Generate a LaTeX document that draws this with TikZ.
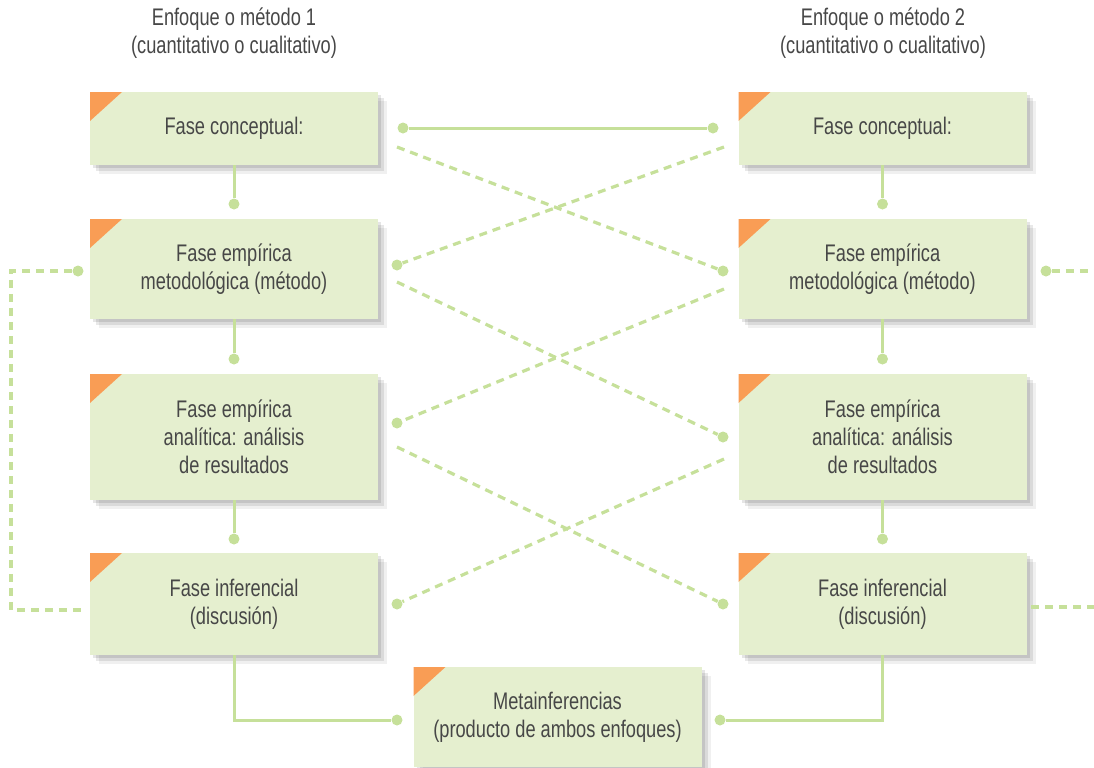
\documentclass[tikz,border=0pt]{standalone}
\usepackage{fontspec}
\setmainfont{Liberation Sans}[FakeStretch=0.76]
\usepackage{xcolor}
\usepackage{tikz}
\usetikzlibrary{shadows}
\definecolor{boxgreen}{HTML}{E5EFCF}
\definecolor{linegreen}{HTML}{C6E09A}
\definecolor{cornerorange}{HTML}{F99D55}
\definecolor{textgray}{HTML}{474747}

\begin{document}
\begin{tikzpicture}[x=0.5pt, y=-0.5pt,
			% Define the styles for the boxes, dots and lines
			every node/.style={font=\fontsize{12}{14}\selectfont, text=textgray, align=center},
			phase/.style={rectangle, fill=boxgreen, minimum width=144pt, inner sep=0pt,
				drop shadow={shadow xshift=1.5pt, shadow yshift=-1.5pt, opacity=.10, fill=black},
				drop shadow={shadow xshift=3pt, shadow yshift=-3pt, opacity=.09, fill=black},
				drop shadow={shadow xshift=4.5pt, shadow yshift=-4.5pt, opacity=.06, fill=black},
				path picture={\fill[cornerorange] (path picture bounding box.north west)
					-- ++(16pt,0pt) -- ++(-16pt,-14.5pt) -- cycle;}},
			dot/.style={circle, fill=linegreen, inner sep=0pt, minimum size=5.5pt},
			link/.style={draw=linegreen, line width=1.5pt},
			dlink/.style={draw=linegreen, line width=1.6pt, dash pattern=on 4pt off 3pt}
			]

			\useasboundingbox (0,0) rectangle (1094,767);

			% headers
			\node (hl) at (234,33) {Enfoque o método 1\\(cuantitativo o cualitativo)};
			\node (hr) at (883,33) {Enfoque o método 2\\(cuantitativo o cualitativo)};

			% left column
			\node (l1) at (234,128.5) [phase, minimum height=36.5pt] {Fase conceptual:};
			\node (l2) at (234,269) [phase, minimum height=50pt] {Fase empírica\\metodológica (método)};
			\node (l3) at (234,437) [phase, minimum height=63pt] {Fase empírica\\analítica: análisis\\de resultados};
			\node (l4) at (234,604) [phase, minimum height=51pt] {Fase inferencial\\(discusión)};

			% right column
			\node (r1) at (882.5,128.5) [phase, minimum height=36.5pt] {Fase conceptual:};
			\node (r2) at (882.5,269) [phase, minimum height=50pt] {Fase empírica\\metodológica (método)};
			\node (r3) at (882.5,437) [phase, minimum height=63pt] {Fase empírica\\analítica: análisis\\de resultados};
			\node (r4) at (882.5,604) [phase, minimum height=51pt] {Fase inferencial\\(discusión)};

			\node (meta) at (557.5,717) [phase, minimum height=50pt] {Metainferencias\\(producto de ambos enfoques)};

			% dots
			\node (dl2) at (234,204) [dot] {};
			\node (dl3) at (234,359) [dot] {};
			\node (dl4) at (234,539) [dot] {};
			\node (dr2) at (882.5,204) [dot] {};
			\node (dr3) at (882.5,359) [dot] {};
			\node (dr4) at (882.5,539) [dot] {};
			\node (ca) at (403,128) [dot] {};
			\node (cb) at (713,128) [dot] {};
			\node (xl2) at (397,265) [dot] {};
			\node (xl3) at (397,423) [dot] {};
			\node (xl4) at (397,604) [dot] {};
			\node (xr2) at (723,271) [dot] {};
			\node (xr3) at (723,437) [dot] {};
			\node (xr4) at (723,604) [dot] {};
			\node (ol) at (78,271) [dot] {};
			\node (or) at (1046,271) [dot] {};
			\node (ml) at (397,720) [dot] {};
			\node (mr) at (720,720) [dot] {};

			\coordinate (sl1) at (397,147);
			\coordinate (sl2) at (397,282);
			\coordinate (sl3) at (397,447);
			\coordinate (sr1) at (724,147);
			\coordinate (sr2) at (724,289);
			\coordinate (sr3) at (724,459);
			\coordinate (ol1) at (11,271);
			\coordinate (ol2) at (11,610);
			\coordinate (ol3) at (84,610);
			\coordinate (oe1) at (1094,271);
			\coordinate (os2) at (1031,607);
			\coordinate (oe2) at (1094,607);

			% vertical links
			\draw[link] (l1.south) -- (dl2);
			\draw[link] (l2.south) -- (dl3);
			\draw[link] (l3.south) -- (dl4);
			\draw[link] (r1.south) -- (dr2);
			\draw[link] (r2.south) -- (dr3);
			\draw[link] (r3.south) -- (dr4);
			\draw[link] (ca) -- (cb);

			% crossing links
			\draw[dlink] (sl1) -- (xr2);
			\draw[dlink] (sr1) -- (xl2);
			\draw[dlink] (sl2) -- (xr3);
			\draw[dlink] (sr2) -- (xl3);
			\draw[dlink] (sl3) -- (xr4);
			\draw[dlink] (sr3) -- (xl4);

			% outer links
			\draw[dlink] (ol) -- (ol1) -- (ol2) -- (ol3);
			\draw[dlink] (or) -- (oe1);
			\draw[dlink] (os2) -- (oe2);

			% to the metainferences
			\draw[link] (l4.south) |- (ml);
			\draw[link] (r4.south) |- (mr);

		\end{tikzpicture}
\end{document}
